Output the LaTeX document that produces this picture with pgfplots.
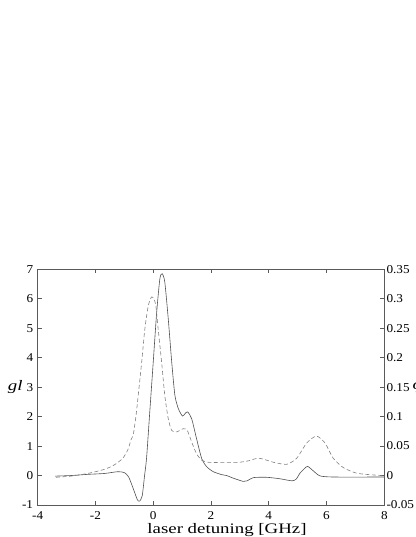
\documentclass[border=0pt]{standalone}
\usepackage{fontspec}
\setmainfont{Liberation Serif}[FakeStretch=1.1]
\newfontfamily\labelfont{Liberation Serif}[FakeStretch=1.3]
\usepackage{pgfplots}
\pgfplotsset{compat=1.18}
\definecolor{axgray}{HTML}{5A5A5A}
\definecolor{solidc}{HTML}{505050}
\definecolor{dashc}{HTML}{808080}
\begin{document}
\begin{tikzpicture}
\pgfplotsset{
  myaxis/.style={
    scale only axis, width=346.6pt, height=235.7pt,
    at={(0,0)}, anchor=south west,
    xmin=-4, xmax=8,
    axis line style={axgray, line width=0.6pt},
    major tick style={axgray, line width=0.6pt},
    major tick length=4pt,
    tick align=inside,
    /pgf/number format/assume math mode=true,
    tick label style={font=\fontsize{12pt}{13pt}\selectfont},
  }
}
\begin{axis}[myaxis,
  ymin=-1, ymax=7, ytick={-1,0,1,2,3,4,5,6,7}, xtick={-4,-2,0,2,4,6,8},
  ytick pos=left,
  xticklabel={\pgfmathprintnumber[assume math mode=true]{\tick}},
  yticklabel={\pgfmathprintnumber[assume math mode=true]{\tick}},
  yticklabel style={inner sep=0pt, xshift=-4.4pt},
  xticklabel style={inner sep=0pt, yshift=-6.5pt},
  xlabel={laser detuning [GHz]},
  every axis x label/.style={at={(axis description cs:0.5,0)}, anchor=north, inner sep=0pt, yshift=-18pt, xshift=16pt, font=\labelfont\fontsize{14.5pt}{16pt}\selectfont},
  ylabel={\textit{gl}},
  every axis y label/.style={at={(axis description cs:0,0.5)}, anchor=east, inner sep=0pt, xshift=-15pt, font=\labelfont\fontsize{14.5pt}{16pt}\selectfont},
]
\addplot[solidc, line width=0.6pt, smooth, tension=0.4] coordinates {
(-3.4,-0.02) (-2.85,0.0) (-2.27,0.04) (-1.69,0.07) (-1.23,0.13) (-1.0,0.10)
(-0.85,-0.05) (-0.69,-0.45) (-0.55,-0.82) (-0.47,-0.87) (-0.38,-0.68) (-0.30,0.0)
(-0.23,0.6) (-0.12,2.16) (0.0,3.85) (0.12,5.55) (0.23,6.68) (0.31,6.85) (0.40,6.57)
(0.52,5.32) (0.64,3.85) (0.75,2.72) (0.87,2.27) (1.01,2.02) (1.10,2.10) (1.19,2.16)
(1.33,1.93) (1.50,1.25) (1.68,0.57) (1.85,0.30) (2.08,0.13) (2.37,0.03) (2.54,0.0)
(2.8,-0.1) (3.12,-0.20) (3.25,-0.18) (3.47,-0.07) (3.93,-0.06) (4.39,-0.11)
(4.8,-0.18) (4.95,-0.12) (5.08,0.08) (5.25,0.25) (5.35,0.31) (5.54,0.16)
(5.77,-0.01) (6.23,-0.05) (8.0,-0.05)
};
\end{axis}
\begin{axis}[myaxis,
  ymin=-0.05, ymax=0.35, ytick={-0.05,0,0.05,0.1,0.15,0.2,0.25,0.3,0.35},
  axis y line*=right, axis x line=none, scaled y ticks=false,
  yticklabel={\pgfmathprintnumber[fixed,precision=2,assume math mode=true]{\tick}},
  yticklabel style={inner sep=0pt, xshift=2pt},
  ylabel={\textit{φ}},
  every axis y label/.style={at={(axis description cs:1,0.5)}, anchor=west, inner sep=0pt, xshift=28pt, font=\labelfont\fontsize{14.5pt}{16pt}\selectfont},
]
\addplot[dashc, line width=0.6pt, dash pattern=on 4pt off 2.5pt, smooth, tension=0.4] coordinates {
(-3.37,-0.003) (-2.85,-0.001) (-2.27,0.0035) (-1.69,0.0105) (-1.35,0.018) (-1.06,0.029)
(-0.88,0.0435) (-0.77,0.0605) (-0.69,0.07) (-0.60,0.10) (-0.52,0.136) (-0.40,0.1925)
(-0.29,0.249) (-0.17,0.2885) (-0.06,0.303) (0.02,0.300) (0.09,0.2885) (0.17,0.249)
(0.29,0.1925) (0.40,0.136) (0.52,0.0965) (0.64,0.0765) (0.81,0.074) (1.04,0.0795)
(1.18,0.0765) (1.33,0.057) (1.50,0.037) (1.68,0.026) (1.91,0.0225) (2.3,0.022)
(2.89,0.022) (3.3,0.025) (3.64,0.0295) (4.0,0.025) (4.16,0.0225) (4.62,0.019)
(4.97,0.0295) (5.31,0.055) (5.65,0.067) (5.95,0.055) (6.23,0.0295) (6.58,0.0135)
(7.04,0.004) (7.62,0.001) (8.0,0.0)
};
\end{axis}
\pgfresetboundingbox
\path[use as bounding box] (-37.7pt,-32pt) rectangle (377.3pt,505pt);
\end{tikzpicture}
\end{document}
